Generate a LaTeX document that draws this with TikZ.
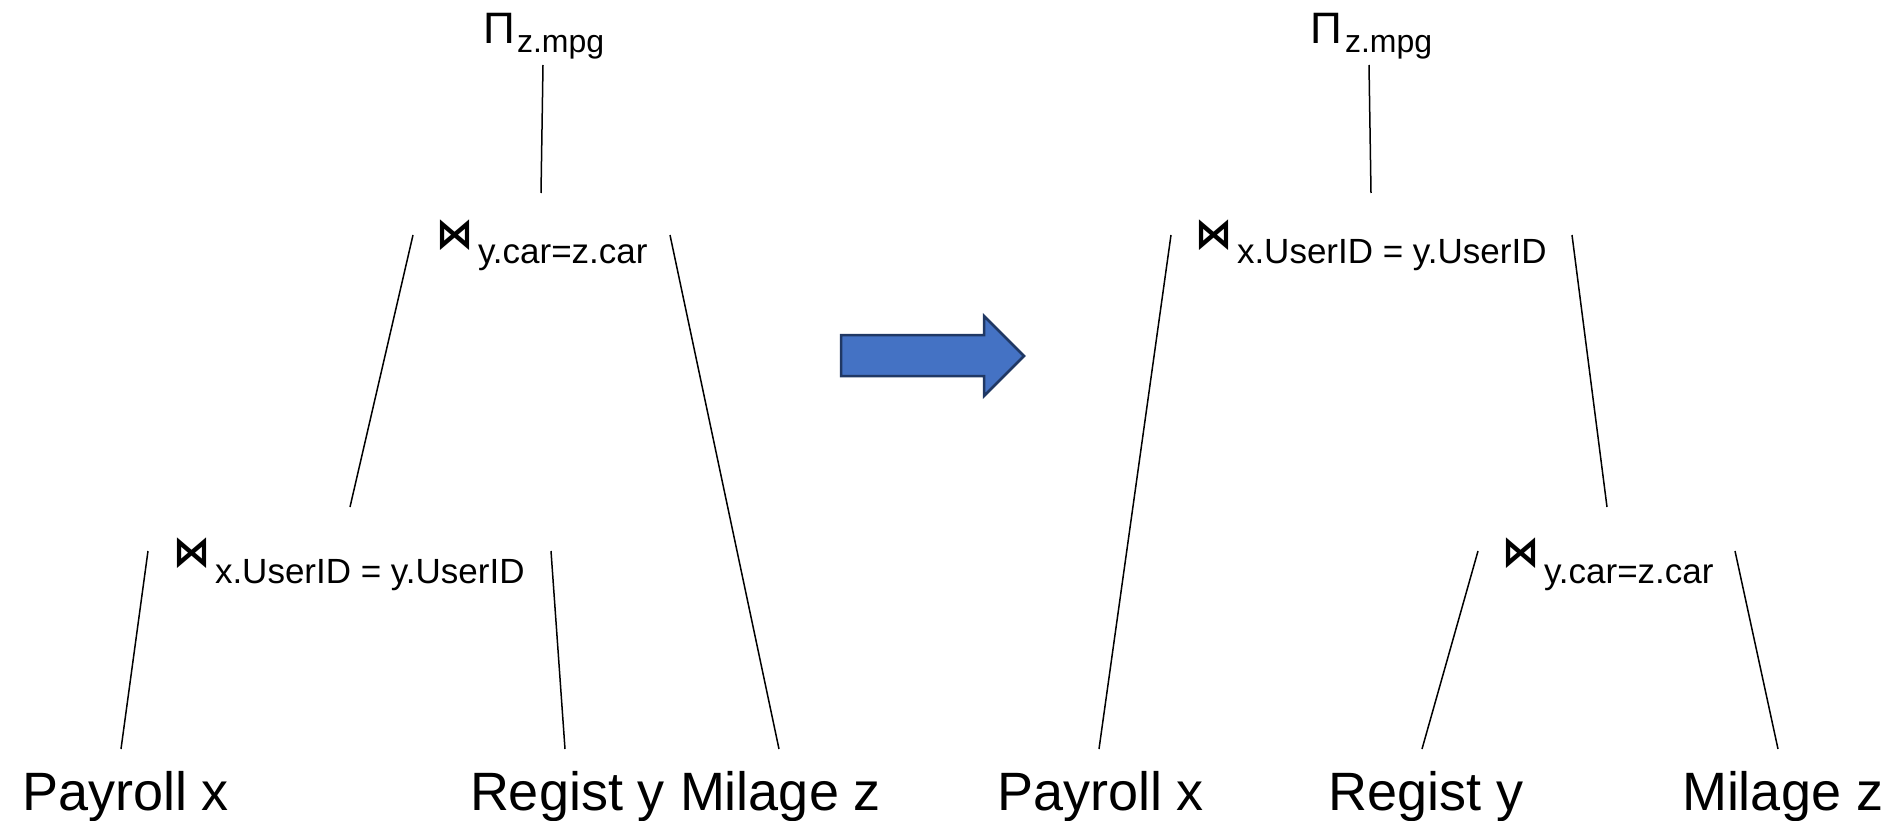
\documentclass[tikz,border=0pt]{standalone}
\usepackage{fontspec}
\setmainfont{Liberation Sans}
\newfontfamily\dvs{DejaVu Sans}
\definecolor{arrfill}{HTML}{4472C4}
\definecolor{arrline}{HTML}{203864}
\newcommand{\bowsym}{\scalebox{1}[1.15]{⋈}}
\begin{document}
\begin{tikzpicture}[x=1pt,y=-1pt,
  txt/.style={inner sep=0pt, outer sep=0pt, anchor=base west},
  pisym/.style={txt, font=\fontsize{44}{50}\selectfont},
  bow/.style={txt, font=\dvs\bfseries\fontsize{37}{42}\selectfont},
  subtxt/.style={txt, font=\fontsize{35}{40}\selectfont},
  pisub/.style={txt, font=\fontsize{32}{38}\selectfont},
  leaf/.style={txt, font=\fontsize{54}{60}\selectfont},
  edge/.style={line width=1.5pt, black},
  bigarrow/.style={fill=arrfill, draw=arrline, line width=2.5pt, line join=miter}]
\useasboundingbox (0,0) rectangle (1893,821);
% ---------- left tree ----------
\node[pisym] (piL) at (483,44) {Π};
\node[pisub] (piLs) at (517,53) {z.mpg};
\node[bow] (jAL) at (436,249) {\bowsym};
\node[subtxt] (jALs) at (478,264) {y.car=z.car};
\node[bow] (jBL) at (173,566) {\bowsym};
\node[subtxt] (jBLs) at (215,583) {x.UserID = y.UserID};
\node[leaf] (payL) at (22,810) {Payroll x};
\node[leaf] (regL) at (470,810) {Regist y};
\node[leaf] (milL) at (680,810) {Milage z};
\coordinate (eL1a) at (543,65);  \coordinate (eL1b) at (541,193);
\coordinate (eL2a) at (413,235); \coordinate (eL2b) at (350,507);
\coordinate (eL3a) at (670,235); \coordinate (eL3b) at (779,749);
\coordinate (eL4a) at (148,551); \coordinate (eL4b) at (121,749);
\coordinate (eL5a) at (551,551); \coordinate (eL5b) at (565,749);
\draw[edge] (eL1a) -- (eL1b);
\draw[edge] (eL2a) -- (eL2b);
\draw[edge] (eL3a) -- (eL3b);
\draw[edge] (eL4a) -- (eL4b);
\draw[edge] (eL5a) -- (eL5b);
% ---------- arrow ----------
\draw[bigarrow] (841,335) -- (984,335) -- (984,316) -- (1024,356) -- (984,396) -- (984,376) -- (841,376) -- cycle;
% ---------- right tree ----------
\node[pisym] (piR) at (1310,44) {Π};
\node[pisub] (piRs) at (1345,53) {z.mpg};
\node[bow] (jAR) at (1195,249) {\bowsym};
\node[subtxt] (jARs) at (1237,264) {x.UserID = y.UserID};
\node[bow] (jBR) at (1502,566) {\bowsym};
\node[subtxt] (jBRs) at (1544,583) {y.car=z.car};
\node[leaf] (payR) at (997,810) {Payroll x};
\node[leaf] (regR) at (1328,810) {Regist y};
\node[leaf] (milR) at (1682,810) {Milage z};
\coordinate (eR1a) at (1369,65);  \coordinate (eR1b) at (1371,193);
\coordinate (eR2a) at (1171,235); \coordinate (eR2b) at (1099,749);
\coordinate (eR3a) at (1572,235); \coordinate (eR3b) at (1607,507);
\coordinate (eR4a) at (1478,551); \coordinate (eR4b) at (1422,749);
\coordinate (eR5a) at (1735,551); \coordinate (eR5b) at (1778,749);
\draw[edge] (eR1a) -- (eR1b);
\draw[edge] (eR2a) -- (eR2b);
\draw[edge] (eR3a) -- (eR3b);
\draw[edge] (eR4a) -- (eR4b);
\draw[edge] (eR5a) -- (eR5b);
\end{tikzpicture}
\end{document}
